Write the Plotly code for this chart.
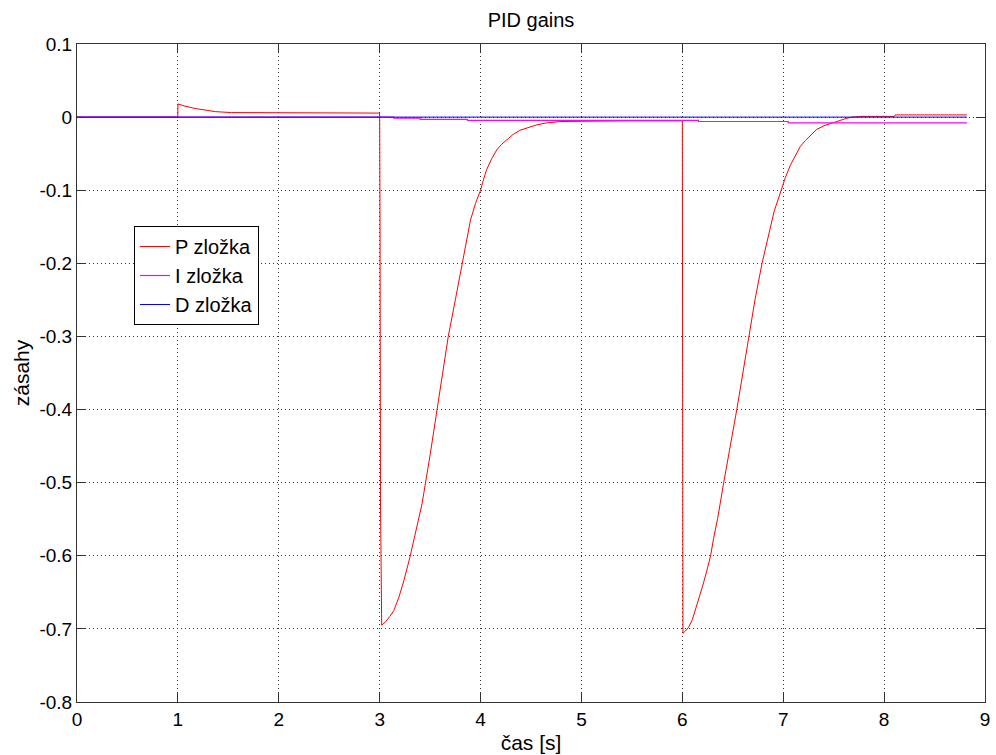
import plotly.graph_objects as go

# P component
p_t = [0.0, 1.0, 1.0, 1.07, 1.17, 1.27, 1.37, 1.53, 2.0, 2.5, 3.0,
       3.004, 3.008, 3.02, 3.06, 3.10, 3.14, 3.19, 3.24, 3.30, 3.36, 3.42, 3.50, 3.57,
       3.62, 3.68, 3.75, 3.82, 3.86, 3.90, 3.95, 4.0, 4.03, 4.06, 4.11, 4.16, 4.21,
       4.26, 4.32, 4.39, 4.47, 4.56, 4.65, 4.79, 5.5, 6.0,
       6.003, 6.006, 6.03, 6.066, 6.10, 6.13, 6.165, 6.2, 6.24, 6.28, 6.31, 6.35, 6.41,
       6.445, 6.48, 6.51, 6.54, 6.60, 6.66, 6.72, 6.79, 6.85, 6.91, 6.98, 7.02, 7.07,
       7.12, 7.17, 7.22, 7.27, 7.33, 7.40, 7.47, 7.52, 7.57, 7.62, 7.68, 7.78, 8.10,
       8.11, 8.82]
p_v = [0.0, 0.0, 0.018, 0.015, 0.0118, 0.0096, 0.0075, 0.0062, 0.0057, 0.0056, 0.0055,
       -0.17, -0.52, -0.695, -0.690, -0.683, -0.675, -0.657, -0.634, -0.602, -0.567, -0.529,
       -0.462, -0.401, -0.355, -0.300, -0.250, -0.201, -0.170, -0.141, -0.118, -0.100,
       -0.085, -0.072, -0.057, -0.045, -0.037, -0.031, -0.024, -0.018, -0.014, -0.0105,
       -0.008, -0.006, -0.005, -0.005,
       -0.355, -0.706, -0.703, -0.697, -0.687, -0.674, -0.659, -0.642, -0.622, -0.600,
       -0.576, -0.549, -0.500, -0.474, -0.448, -0.425, -0.400, -0.350, -0.300, -0.250,
       -0.200, -0.163, -0.129, -0.100, -0.083, -0.066, -0.052, -0.040, -0.032, -0.025,
       -0.017, -0.012, -0.0085, -0.006, -0.004, -0.002, 0.0, 0.001, 0.001, 0.003, 0.003]

# I component
i_t = [0.0, 3.14, 3.14, 3.4, 3.4, 3.87, 3.87, 6.16, 6.16, 7.05, 7.05, 8.82]
i_v = [0.0, 0.0, -0.0015, -0.0015, -0.003, -0.003, -0.0045, -0.0045, -0.006, -0.006, -0.008, -0.008]

# D component
d_t = [0.0, 8.82]
d_v = [0.0, 0.0]

x_ticks = list(range(0, 10))
y_ticks = [0.1, 0, -0.1, -0.2, -0.3, -0.4, -0.5, -0.6, -0.7, -0.8]
y_tick_labels = ["0.1", "0", "-0.1", "-0.2", "-0.3", "-0.4", "-0.5", "-0.6", "-0.7", "-0.8"]

FONT = "Liberation Sans, Arial, sans-serif"

fig = go.Figure()
fig.add_trace(go.Scatter(x=p_t, y=p_v, mode="lines", name="P zložka",
                         line=dict(color="#ff0000", width=1)))
fig.add_trace(go.Scatter(x=i_t, y=i_v, mode="lines", name="I zložka",
                         line=dict(color="#ff00ff", width=1.2)))
fig.add_trace(go.Scatter(x=d_t, y=d_v, mode="lines", name="D zložka",
                         line=dict(color="#0000ff", width=1)))

axis_common = dict(
    showline=True, linecolor="#333333", linewidth=1, mirror="ticks",
    ticks="inside", ticklen=9, tickcolor="#333333",
    showgrid=True, gridcolor="#333333", gridwidth=1, griddash="1px,3px",
    zeroline=False, automargin=False,
    tickfont=dict(family=FONT, size=19, color="#000000"),
)

fig.update_xaxes(range=[0, 9], tickvals=x_ticks,
                 title=dict(text="čas [s]", standoff=6,
                            font=dict(family=FONT, size=21, color="#000")),
                 **axis_common)
fig.update_yaxes(range=[-0.8, 0.1], tickvals=y_ticks, ticktext=y_tick_labels,
                 title=dict(text="zásahy", standoff=4,
                            font=dict(family=FONT, size=21, color="#000")),
                 **axis_common)

fig.update_layout(
    width=996, height=755,
    margin=dict(l=77, r=11, t=44, b=53),
    paper_bgcolor="white", plot_bgcolor="white",
    title=dict(text="PID gains", xref="paper", x=0.5, xanchor="center",
               y=1 - 20 / 755, yanchor="middle",
               font=dict(family=FONT, size=20, color="#000")),
    legend=dict(x=0.0628, y=0.7234, xanchor="left", yanchor="top",
                bgcolor="white", bordercolor="#000000", borderwidth=1,
                font=dict(family=FONT, size=20, color="#000"),
                tracegroupgap=0),
    showlegend=True,
)

fig.write_html("out.html", config={"displayModeBar": False},
               post_script="document.body.style.margin='0px';document.body.style.overflow='hidden';")
